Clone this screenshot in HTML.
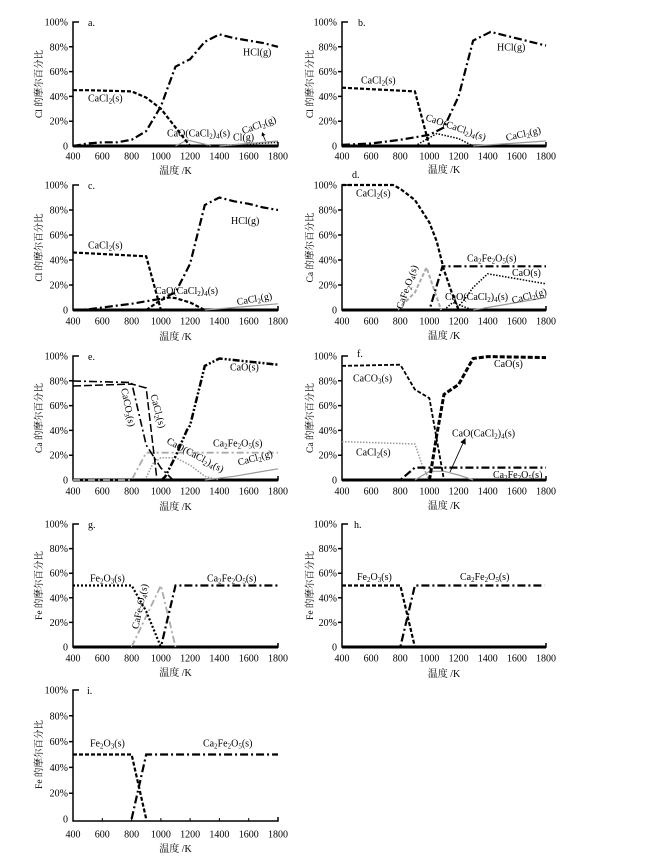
<!DOCTYPE html>
<html><head><meta charset="utf-8">
<style>
html,body{margin:0;padding:0;background:#fff}
svg{display:block}
text{font-family:"Liberation Serif","Noto Serif CJK SC",serif;font-size:10px;fill:#000}
.s{font-size:7px}
.yl{font-size:9.5px}
.ax{stroke:#000;stroke-width:1.5;fill:none}
.base{stroke:#000;stroke-width:3}
.dd{stroke:#000;stroke-width:2.2;stroke-dasharray:8 3 2 3;fill:none}
.sd{stroke:#000;stroke-width:2.2;stroke-dasharray:4 2;fill:none}
.hd{stroke:#000;stroke-width:3;stroke-dasharray:5 2;fill:none}
.dot{stroke:#000;stroke-width:1.5;stroke-dasharray:1.5 1.5;fill:none}
.hdot{stroke:#000;stroke-width:2.2;stroke-dasharray:2 2;fill:none}
.g{stroke:#999;stroke-width:1.2;fill:none}
.gdd{stroke:#aaa;stroke-width:1.8;stroke-dasharray:7 3 2 3;fill:none}
.gdot{stroke:#999;stroke-width:1.5;stroke-dasharray:1.5 1.5;fill:none}
.gd{stroke:#aaa;stroke-width:2;stroke-dasharray:4 2;fill:none}
.ld{stroke:#000;stroke-width:1.5;stroke-dasharray:8 3;fill:none}
.ddd{stroke:#000;stroke-width:2.5;stroke-dasharray:7 2 2 2 2 2;fill:none}
</style></head>
<body>
<svg width="671" height="861" viewBox="0 0 671 861" xmlns="http://www.w3.org/2000/svg">
<rect width="671" height="861" fill="#fff"/>

<!-- ================= PANEL A ================= -->
<g>
<path class="ax" d="M79,22 H73 V146 H278 V142"/>
<path class="ax" d="M69,46.8H73M69,71.6H73M69,96.4H73M69,121.2H73"/>
<line class="base" x1="73" y1="146" x2="278" y2="146"/>
<g text-anchor="end"><text x="68" y="25.5">100%</text><text x="68" y="50.3">80%</text><text x="68" y="75.1">60%</text><text x="68" y="99.9">40%</text><text x="68" y="124.7">20%</text><text x="68" y="149.5">0</text></g>
<g text-anchor="middle"><text x="73" y="159.5">400</text><text x="102.3" y="159.5">600</text><text x="131.6" y="159.5">800</text><text x="160.9" y="159.5">1000</text><text x="190.1" y="159.5">1200</text><text x="219.4" y="159.5">1400</text><text x="248.7" y="159.5">1600</text><text x="278" y="159.5">1800</text>
<text x="175.5" y="174">温度 /K</text>
<text class="yl" transform="translate(42,84) rotate(-90)">Cl 的摩尔百分比</text></g>
<polyline class="g" points="175.5,146 187.3,140 212.1,146"/>
<polyline class="dot" points="204.8,146 234.1,144.8 278,142.3"/>
<polyline class="g" points="219.4,146 278,141"/>
<polyline class="sd" points="73,90.2 87.6,90.2 131.6,91.4 146.2,97.6 160.9,108.8 175.5,127.4 190.1,146"/>
<polyline class="dd" points="73,146 87.6,143.5 102.3,142.3 116.9,142.3 131.6,139.8 146.2,131.1 160.9,106.3 175.5,66.6 190.1,59.2 204.8,41.8 219.4,34.4 234.1,38.1 248.7,40.6 263.4,43.1 278,46.8"/>
<line x1="265.5" y1="141" x2="263" y2="135" stroke="#000" stroke-width="0.8"/>
<polygon points="262,132 265.4,135 261.6,136.4" fill="#000"/>
<text x="88" y="26">a.</text>
<text x="243" y="55.5">HCl(g)</text>
<text x="88" y="101.5">CaCl<tspan class="s" dy="2">2</tspan><tspan dy="-2">(s)</tspan></text>
<text x="167" y="136.5">CaO(CaCl<tspan class="s" dy="2">2</tspan><tspan dy="-2">)</tspan><tspan class="s" dy="2">4</tspan><tspan dy="-2">(s)</tspan></text>
<text x="233" y="140.5">Cl(g)</text>
<text text-anchor="middle" transform="translate(260,128) rotate(-20)">CaCl<tspan class="s" dy="2">2</tspan><tspan dy="-2">(g)</tspan></text>
</g>

<!-- ================= PANEL B ================= -->
<g>
<path class="ax" d="M348,22 H342 V146 H546 V142"/>
<path class="ax" d="M338,46.8H342M338,71.6H342M338,96.4H342M338,121.2H342"/>
<line class="base" x1="342" y1="146" x2="546" y2="146"/>
<g text-anchor="end"><text x="337" y="25.5">100%</text><text x="337" y="50.3">80%</text><text x="337" y="75.1">60%</text><text x="337" y="99.9">40%</text><text x="337" y="124.7">20%</text><text x="337" y="149.5">0</text></g>
<g text-anchor="middle"><text x="342" y="159.5">400</text><text x="371.1" y="159.5">600</text><text x="400.3" y="159.5">800</text><text x="429.4" y="159.5">1000</text><text x="458.6" y="159.5">1200</text><text x="487.7" y="159.5">1400</text><text x="516.9" y="159.5">1600</text><text x="546" y="159.5">1800</text>
<text x="444" y="173">温度 /K</text>
<text class="yl" transform="translate(313,84) rotate(-90)">Cl 的摩尔百分比</text></g>
<polyline class="g" points="473.1,146 546,141"/>
<polyline class="dot" points="414.9,146 436.7,133.6 458.6,138.6 473.1,146"/>
<polyline class="sd" points="342,87.7 414.9,91.4 429.4,146"/>
<polyline class="dd" points="342,144.8 371.1,143.5 400.3,139.8 414.9,137.3 429.4,134.8 444,127.4 458.6,96.4 473.1,40.6 490.6,31.9 546,45.6"/>
<text x="358" y="26">b.</text>
<text x="497" y="50.5">HCl(g)</text>
<text x="361" y="83.5">CaCl<tspan class="s" dy="2">2</tspan><tspan dy="-2">(s)</tspan></text>
<text transform="translate(425,120) rotate(19)">CaO(CaCl<tspan class="s" dy="2">2</tspan><tspan dy="-2">)</tspan><tspan class="s" dy="2">4</tspan><tspan dy="-2">(s)</tspan></text>
<text text-anchor="middle" transform="translate(524,137) rotate(-13)">CaCl<tspan class="s" dy="2">2</tspan><tspan dy="-2">(g)</tspan></text>
</g>

<!-- ================= PANEL C ================= -->
<g>
<path class="ax" d="M79,185 H73 V310 H278 V306"/>
<path class="ax" d="M69,210H73M69,235H73M69,260H73M69,285H73"/>
<line class="base" x1="73" y1="310" x2="278" y2="310"/>
<g text-anchor="end"><text x="68" y="188.5">100%</text><text x="68" y="213.5">80%</text><text x="68" y="238.5">60%</text><text x="68" y="263.5">40%</text><text x="68" y="288.5">20%</text><text x="68" y="313.5">0</text></g>
<g text-anchor="middle"><text x="73" y="324.5">400</text><text x="102.3" y="324.5">600</text><text x="131.6" y="324.5">800</text><text x="160.9" y="324.5">1000</text><text x="190.1" y="324.5">1200</text><text x="219.4" y="324.5">1400</text><text x="248.7" y="324.5">1600</text><text x="278" y="324.5">1800</text>
<text x="175.5" y="340">温度 /K</text>
<text class="yl" transform="translate(42,247.5) rotate(-90)">Cl 的摩尔百分比</text></g>
<polyline class="g" points="204.8,310 278,303.8"/>
<polyline class="sd" points="146.2,310 160.9,300 168.2,297.5 175.5,298.1 190.1,302.5 204.8,310"/>
<polyline class="sd" points="73,252.5 146.2,256.3 160.9,310"/>
<polyline class="dd" points="73,310 87.6,309.4 102.3,307.5 116.9,305.6 131.6,303.8 146.2,301.3 160.9,298.8 175.5,292.5 190.1,263.8 204.8,205 219.4,197.5 234.1,201.3 248.7,203.8 263.4,207.5 278,210"/>
<text x="88" y="189">c.</text>
<text x="231" y="224">HCl(g)</text>
<text x="88" y="248.5">CaCl<tspan class="s" dy="2">2</tspan><tspan dy="-2">(s)</tspan></text>
<text x="155" y="294">CaO(CaCl<tspan class="s" dy="2">2</tspan><tspan dy="-2">)</tspan><tspan class="s" dy="2">4</tspan><tspan dy="-2">(s)</tspan></text>
<text text-anchor="middle" transform="translate(255,302) rotate(-10)">CaCl<tspan class="s" dy="2">2</tspan><tspan dy="-2">(g)</tspan></text>
</g>

<!-- ================= PANEL D ================= -->
<g>
<path class="ax" d="M348,185 H342 V310 H546 V306"/>
<path class="ax" d="M338,210H342M338,235H342M338,260H342M338,285H342"/>
<line class="base" x1="342" y1="310" x2="546" y2="310"/>
<g text-anchor="end"><text x="337" y="188.5">100%</text><text x="337" y="213.5">80%</text><text x="337" y="238.5">60%</text><text x="337" y="263.5">40%</text><text x="337" y="288.5">20%</text><text x="337" y="313.5">0</text></g>
<g text-anchor="middle"><text x="342" y="324.5">400</text><text x="371.1" y="324.5">600</text><text x="400.3" y="324.5">800</text><text x="429.4" y="324.5">1000</text><text x="458.6" y="324.5">1200</text><text x="487.7" y="324.5">1400</text><text x="516.9" y="324.5">1600</text><text x="546" y="324.5">1800</text>
<text x="444" y="339">温度 /K</text>
<text class="yl" transform="translate(313,247.5) rotate(-90)">Ca 的摩尔百分比</text></g>
<polyline class="g" points="473.1,310 546,297.5"/>
<polyline class="dot" points="444,310 452.7,302.5 465.9,307.5 473.1,310"/>
<polyline class="dot" points="455.7,310 465.9,297.5 473.1,287.5 487.7,273.8 546,283.8"/>
<polyline class="gd" points="397.4,310 414.9,292.5 426.5,267.5 441.1,310"/>
<polyline class="dd" points="342,310 429.4,310 442.5,266.3 546,266.3"/>
<polyline class="sd" points="342,185 393,185 400.3,188.8 414.9,200 429.4,222.5 436.7,241.3 444,270 451.3,291.3 458.6,310"/>
<text x="352" y="178">d.</text>
<text x="356" y="196.5">CaCl<tspan class="s" dy="2">2</tspan><tspan dy="-2">(s)</tspan></text>
<text x="467" y="261.5">Ca<tspan class="s" dy="2">2</tspan><tspan dy="-2">Fe</tspan><tspan class="s" dy="2">2</tspan><tspan dy="-2">O</tspan><tspan class="s" dy="2">5</tspan><tspan dy="-2">(s)</tspan></text>
<text x="512" y="276">CaO(s)</text>
<text text-anchor="middle" transform="translate(410,288) rotate(-70)">CaFe<tspan class="s" dy="2">2</tspan><tspan dy="-2">O</tspan><tspan class="s" dy="2">4</tspan><tspan dy="-2">(s)</tspan></text>
<text x="445" y="300">CaO(CaCl<tspan class="s" dy="2">2</tspan><tspan dy="-2">)</tspan><tspan class="s" dy="2">4</tspan><tspan dy="-2">(s)</tspan></text>
<text text-anchor="middle" transform="translate(530,299) rotate(-15)">CaCl<tspan class="s" dy="2">2</tspan><tspan dy="-2">(g)</tspan></text>
</g>

<!-- ================= PANEL E ================= -->
<g>
<path class="ax" d="M79,356 H73 V480 H278 V476"/>
<path class="ax" d="M69,380.8H73M69,405.6H73M69,430.4H73M69,455.2H73"/>
<line class="base" x1="73" y1="480" x2="278" y2="480"/>
<g text-anchor="end"><text x="68" y="359.5">100%</text><text x="68" y="384.3">80%</text><text x="68" y="409.1">60%</text><text x="68" y="433.9">40%</text><text x="68" y="458.7">20%</text><text x="68" y="483.5">0</text></g>
<g text-anchor="middle"><text x="73" y="494.5">400</text><text x="102.3" y="494.5">600</text><text x="131.6" y="494.5">800</text><text x="160.9" y="494.5">1000</text><text x="190.1" y="494.5">1200</text><text x="219.4" y="494.5">1400</text><text x="248.7" y="494.5">1600</text><text x="278" y="494.5">1800</text>
<text x="175.5" y="510">温度 /K</text>
<text class="yl" transform="translate(42,418) rotate(-90)">Ca 的摩尔百分比</text></g>
<polyline class="g" points="204.8,480 234.1,476.3 278,468.8"/>
<polyline class="gdot" points="146.2,477.5 153.5,462.6 160.9,457.7 175.5,457.7 190.1,465.1 204.8,476.3 219.4,480"/>
<polyline class="gdd" points="73,480 131.6,480 146.2,452.7 278,452.7"/>
<polyline class="dd" style="stroke-width:1.6" points="73,381 131.6,382.5 146.2,445 160.9,468 173,480"/>
<polyline class="ld" points="73,386 131.6,384 146.2,388 157,480"/>
<polyline class="ddd" points="161.5,480 165.3,476.5 175.5,456.4 187,430 190.1,425.4 204.8,365.9 219.4,358.5 278,364.7"/>
<text x="88" y="360">e.</text>
<text x="230" y="370.5">CaO(s)</text>
<text x="213" y="446.5">Ca<tspan class="s" dy="2">2</tspan><tspan dy="-2">Fe</tspan><tspan class="s" dy="2">2</tspan><tspan dy="-2">O</tspan><tspan class="s" dy="2">5</tspan><tspan dy="-2">(s)</tspan></text>
<text transform="translate(166,443) rotate(28)">CaO(CaCl<tspan class="s" dy="2">2</tspan><tspan dy="-2">)</tspan><tspan class="s" dy="2">4</tspan><tspan dy="-2">(s)</tspan></text>
<text text-anchor="middle" transform="translate(256,461) rotate(-15)">CaCl<tspan class="s" dy="2">2</tspan><tspan dy="-2">(g)</tspan></text>
<text text-anchor="middle" transform="translate(125,408) rotate(78)">CaCO<tspan class="s" dy="2">3</tspan><tspan dy="-2">(s)</tspan></text>
<text text-anchor="middle" transform="translate(155,412) rotate(75)">CaCl<tspan class="s" dy="2">2</tspan><tspan dy="-2">(s)</tspan></text>
</g>

<!-- ================= PANEL F ================= -->
<g>
<path class="ax" d="M348,356 H342 V480 H546 V476"/>
<path class="ax" d="M338,380.8H342M338,405.6H342M338,430.4H342M338,455.2H342"/>
<line class="base" x1="342" y1="480" x2="546" y2="480"/>
<g text-anchor="end"><text x="337" y="359.5">100%</text><text x="337" y="384.3">80%</text><text x="337" y="409.1">60%</text><text x="337" y="433.9">40%</text><text x="337" y="458.7">20%</text><text x="337" y="483.5">0</text></g>
<g text-anchor="middle"><text x="342" y="494.5">400</text><text x="371.1" y="494.5">600</text><text x="400.3" y="494.5">800</text><text x="429.4" y="494.5">1000</text><text x="458.6" y="494.5">1200</text><text x="487.7" y="494.5">1400</text><text x="516.9" y="494.5">1600</text><text x="546" y="494.5">1800</text>
<text x="444" y="509">温度 /K</text>
<text class="yl" transform="translate(313,418) rotate(-90)">Ca 的摩尔百分比</text></g>
<polyline class="g" points="414.9,480 429.4,471.3 444,471.3 458.6,475 473.1,480"/>
<polyline class="gdot" points="342,441.6 414.9,444 422.1,465.1 429.4,480"/>
<polyline class="dd" points="342,480 400.3,480 414.9,467.6 546,467.6"/>
<polyline class="sd" style="stroke-width:1.8" points="342,365.9 400.3,364.7 414.9,389.5 429.4,398.2 444,480"/>
<polyline class="hd" points="429.4,480 430.5,473.8 436.7,435.4 444,394.4 458.6,384.5 473.1,358.5 487.7,356.6 546,357.6"/>
<line x1="450" y1="472" x2="463.5" y2="442" stroke="#000" stroke-width="0.9"/>
<polygon points="465.5,438 465.7,444.7 460.3,442.3" fill="#000"/>
<text x="357" y="357">f.</text>
<text x="494" y="367">CaO(s)</text>
<text x="353" y="381.5">CaCO<tspan class="s" dy="2">3</tspan><tspan dy="-2">(s)</tspan></text>
<text x="356" y="455.5">CaCl<tspan class="s" dy="2">2</tspan><tspan dy="-2">(s)</tspan></text>
<text x="452" y="436.5">CaO(CaCl<tspan class="s" dy="2">2</tspan><tspan dy="-2">)</tspan><tspan class="s" dy="2">4</tspan><tspan dy="-2">(s)</tspan></text>
<text x="493" y="478">Ca<tspan class="s" dy="2">2</tspan><tspan dy="-2">Fe</tspan><tspan class="s" dy="2">2</tspan><tspan dy="-2">O</tspan><tspan class="s" dy="2">5</tspan><tspan dy="-2">(s)</tspan></text>
</g>

<!-- ================= PANEL G ================= -->
<g>
<path class="ax" d="M79,524 H73 V647 H278 V643"/>
<path class="ax" d="M69,548.6H73M69,573.2H73M69,597.8H73M69,622.4H73"/>
<line class="base" x1="73" y1="647" x2="278" y2="647"/>
<g text-anchor="end"><text x="68" y="527.5">100%</text><text x="68" y="552.1">80%</text><text x="68" y="576.7">60%</text><text x="68" y="601.3">40%</text><text x="68" y="625.9">20%</text><text x="68" y="650.5">0</text></g>
<g text-anchor="middle"><text x="73" y="661.5">400</text><text x="102.3" y="661.5">600</text><text x="131.6" y="661.5">800</text><text x="160.9" y="661.5">1000</text><text x="190.1" y="661.5">1200</text><text x="219.4" y="661.5">1400</text><text x="248.7" y="661.5">1600</text><text x="278" y="661.5">1800</text>
<text x="175.5" y="676">温度 /K</text>
<text class="yl" transform="translate(42,585.5) rotate(-90)">Fe 的摩尔百分比</text></g>
<polyline class="gdd" points="131.6,647 160.9,585.5 175.5,647"/>
<polyline class="hdot" points="73,585.5 131.6,585.5 146.2,611.3 160.9,647"/>
<polyline class="dd" points="73,647 160.9,647 175.5,585.5 278,585.5"/>
<text x="88" y="528">g.</text>
<text x="90" y="581.5">Fe<tspan class="s" dy="2">2</tspan><tspan dy="-2">O</tspan><tspan class="s" dy="2">3</tspan><tspan dy="-2">(s)</tspan></text>
<text x="207" y="581.5">Ca<tspan class="s" dy="2">2</tspan><tspan dy="-2">Fe</tspan><tspan class="s" dy="2">2</tspan><tspan dy="-2">O</tspan><tspan class="s" dy="2">5</tspan><tspan dy="-2">(s)</tspan></text>
<text text-anchor="middle" transform="translate(143,607) rotate(-78)">CaFe<tspan class="s" dy="2">2</tspan><tspan dy="-2">O</tspan><tspan class="s" dy="2">4</tspan><tspan dy="-2">(s)</tspan></text>
</g>

<!-- ================= PANEL H ================= -->
<g>
<path class="ax" d="M348,524 H342 V647 H546 V643"/>
<path class="ax" d="M338,548.6H342M338,573.2H342M338,597.8H342M338,622.4H342"/>
<line class="base" x1="342" y1="647" x2="546" y2="647"/>
<g text-anchor="end"><text x="337" y="527.5">100%</text><text x="337" y="552.1">80%</text><text x="337" y="576.7">60%</text><text x="337" y="601.3">40%</text><text x="337" y="625.9">20%</text><text x="337" y="650.5">0</text></g>
<g text-anchor="middle"><text x="342" y="661.5">400</text><text x="371.1" y="661.5">600</text><text x="400.3" y="661.5">800</text><text x="429.4" y="661.5">1000</text><text x="458.6" y="661.5">1200</text><text x="487.7" y="661.5">1400</text><text x="516.9" y="661.5">1600</text><text x="546" y="661.5">1800</text>
<text x="444" y="677">温度 /K</text>
<text class="yl" transform="translate(313,585.5) rotate(-90)">Fe 的摩尔百分比</text></g>
<polyline class="sd" points="342,585.5 400.3,585.5 414.9,647"/>
<polyline class="dd" points="342,647 400.3,647 414.9,585.5 544.5,585.5"/>
<text x="354" y="528">h.</text>
<text x="357" y="580">Fe<tspan class="s" dy="2">2</tspan><tspan dy="-2">O</tspan><tspan class="s" dy="2">3</tspan><tspan dy="-2">(s)</tspan></text>
<text x="460" y="580">Ca<tspan class="s" dy="2">2</tspan><tspan dy="-2">Fe</tspan><tspan class="s" dy="2">2</tspan><tspan dy="-2">O</tspan><tspan class="s" dy="2">5</tspan><tspan dy="-2">(s)</tspan></text>
</g>

<!-- ================= PANEL I ================= -->
<g>
<path class="ax" d="M79,690 H73 V821 H278 V817"/>
<path class="ax" d="M69,715.8H73M69,741.6H73M69,767.4H73M69,793.2H73"/>
<path class="ax" style="stroke-width:1" d="M102.3,821V818M131.6,821V818M160.9,821V818M190.1,821V818M219.4,821V818M248.7,821V818"/>
<g text-anchor="end"><text x="68" y="693.5">100%</text><text x="68" y="719.3">80%</text><text x="68" y="745.1">60%</text><text x="68" y="770.9">40%</text><text x="68" y="796.7">20%</text><text x="68" y="822.5">0</text></g>
<g text-anchor="middle"><text x="73" y="837.5">400</text><text x="102.3" y="837.5">600</text><text x="131.6" y="837.5">800</text><text x="160.9" y="837.5">1000</text><text x="190.1" y="837.5">1200</text><text x="219.4" y="837.5">1400</text><text x="248.7" y="837.5">1600</text><text x="278" y="837.5">1800</text>
<text x="175.5" y="852">温度 /K</text>
<text class="yl" transform="translate(42,754.5) rotate(-90)">Fe 的摩尔百分比</text></g>
<polyline class="sd" points="73,754.5 131.6,754.5 146.2,819"/>
<polyline class="dd" points="131.6,819 146.2,754.5 278,754.5"/>
<text x="87" y="694">i.</text>
<text x="90" y="746.5">Fe<tspan class="s" dy="2">2</tspan><tspan dy="-2">O</tspan><tspan class="s" dy="2">3</tspan><tspan dy="-2">(s)</tspan></text>
<text x="203" y="746.5">Ca<tspan class="s" dy="2">2</tspan><tspan dy="-2">Fe</tspan><tspan class="s" dy="2">2</tspan><tspan dy="-2">O</tspan><tspan class="s" dy="2">5</tspan><tspan dy="-2">(s)</tspan></text>
</g>
</svg>
</body></html>
